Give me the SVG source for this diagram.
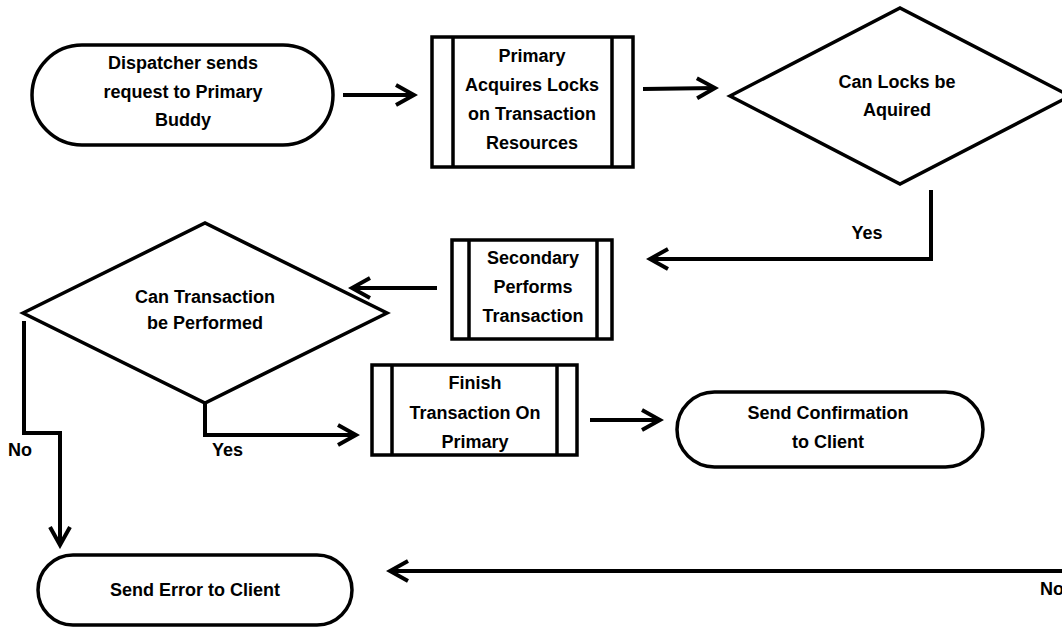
<svg xmlns="http://www.w3.org/2000/svg" width="1062" height="629" viewBox="0 0 1062 629">
<defs>
<style>
.s{fill:#fff;stroke:#000;stroke-width:3.5}
.l{fill:none;stroke:#000;stroke-width:3.5}
.c{fill:none;stroke:#000;stroke-width:4}
text{font-family:"Liberation Sans",Arial,sans-serif;font-size:18px;font-weight:bold;fill:#000}
.m{text-anchor:middle}
</style>
<marker id="a" markerUnits="userSpaceOnUse" viewBox="-22 -13 26 26" markerWidth="26" markerHeight="26" refX="0" refY="0" orient="auto">
<path d="M-18,-10 L0,0 L-18,10" fill="none" stroke="#000" stroke-width="4"/>
</marker>
</defs>
<rect width="1062" height="629" fill="#fff"/>
<g id="connectors">
<path class="c" d="M343,95 L414,95" marker-end="url(#a)"/>
<path class="c" d="M643,89 L715,88" marker-end="url(#a)"/>
<path class="c" d="M931,190 L931,259 L650,259" marker-end="url(#a)"/>
<path class="c" d="M437,288 L352,288" marker-end="url(#a)"/>
<path class="c" d="M205,402 L205,435 L356,435" marker-end="url(#a)"/>
<path class="c" d="M24,321 L24,433 L60,433 L60,545" marker-end="url(#a)"/>
<path class="c" d="M590,420 L660,420" marker-end="url(#a)"/>
<path class="c" d="M1070,571 L390,571" marker-end="url(#a)"/>
<text x="867" y="239" class="m">Yes</text>
<text x="212" y="456">Yes</text>
<text x="8" y="456">No</text>
<text x="1040" y="595">No</text>
</g>
<g id="n1">
<rect class="s" x="32" y="45" width="301" height="100" rx="50"/>
<text class="m" x="183" y="69">Dispatcher sends</text>
<text class="m" x="183" y="98">request to Primary</text>
<text class="m" x="183" y="126">Buddy</text>
</g>
<g id="n2">
<rect class="s" x="432" y="37" width="201" height="130"/>
<path class="l" d="M453,37 V167 M612,37 V167"/>
<text class="m" x="532" y="62">Primary</text>
<text class="m" x="532" y="91">Acquires Locks</text>
<text class="m" x="532" y="120">on Transaction</text>
<text class="m" x="532" y="149">Resources</text>
</g>
<g id="n3">
<polygon class="s" points="730,96 900,8 1070,96 900,184"/>
<text class="m" x="897" y="88">Can Locks be</text>
<text class="m" x="897" y="116">Aquired</text>
</g>
<g id="n4">
<rect class="s" x="452" y="240" width="160" height="99"/>
<path class="l" d="M469,240 V339 M597,240 V339"/>
<text class="m" x="533" y="264">Secondary</text>
<text class="m" x="533" y="293">Performs</text>
<text class="m" x="533" y="322">Transaction</text>
</g>
<g id="n5">
<polygon class="s" points="23,313 205,223 387,313 205,403"/>
<text class="m" x="205" y="303">Can Transaction</text>
<text class="m" x="205" y="329">be Performed</text>
</g>
<g id="n6">
<rect class="s" x="372" y="365" width="205" height="90"/>
<path class="l" d="M392,365 V455 M557,365 V455"/>
<text class="m" x="475" y="389">Finish</text>
<text class="m" x="475" y="419">Transaction On</text>
<text class="m" x="475" y="448">Primary</text>
</g>
<g id="n7">
<rect class="s" x="677" y="392" width="306" height="75" rx="37.5"/>
<text class="m" x="828" y="419">Send Confirmation</text>
<text class="m" x="828" y="448">to Client</text>
</g>
<g id="n8">
<rect class="s" x="38" y="555" width="314" height="70" rx="35"/>
<text class="m" x="195" y="596">Send Error to Client</text>
</g>
</svg>
